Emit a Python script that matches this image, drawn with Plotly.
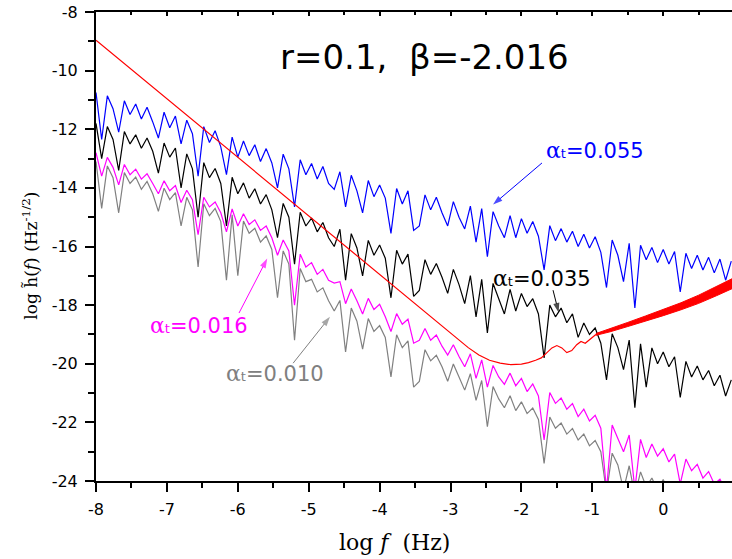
import plotly.graph_objects as go

# ---------------- data ----------------
x_grid = [-8.00, -7.92, -7.84, -7.76, -7.68, -7.60, -7.52, -7.44, -7.36, -7.28,
          -7.20, -7.12, -7.04, -6.96, -6.88, -6.80, -6.72, -6.64, -6.56, -6.48,
          -6.40, -6.32, -6.24, -6.16, -6.08, -6.00, -5.92, -5.84, -5.76, -5.68,
          -5.60, -5.52, -5.44, -5.36, -5.28, -5.20, -5.12, -5.04, -4.96, -4.88,
          -4.80, -4.72, -4.64, -4.56, -4.48, -4.40, -4.32, -4.24, -4.16, -4.08,
          -4.00, -3.92, -3.84, -3.76, -3.68, -3.60, -3.52, -3.44, -3.36, -3.28,
          -3.20, -3.12, -3.04, -2.96, -2.88, -2.80, -2.72, -2.64, -2.56, -2.48,
          -2.40, -2.32, -2.24, -2.16, -2.08, -2.00, -1.92, -1.84, -1.76, -1.68,
          -1.60, -1.52, -1.44, -1.36, -1.28, -1.20, -1.12, -1.04, -0.96, -0.88,
          -0.80, -0.72, -0.64, -0.56, -0.48, -0.40, -0.32, -0.24, -0.16, -0.08,
          0.00, 0.08, 0.16, 0.24, 0.32, 0.40, 0.48, 0.56, 0.64, 0.72,
          0.80, 0.88, 0.96]

blue_y = [-10.75, -12.35, -10.86, -11.30, -12.10, -11.03, -11.50, -11.14, -11.65, -11.25,
          -11.75, -12.30, -11.42, -11.95, -11.55, -12.50, -11.69, -12.15, -13.60, -11.91,
          -12.45, -12.05, -12.60, -13.55, -12.27, -12.95, -12.40, -12.90, -12.53, -13.10,
          -12.66, -13.15, -14.00, -12.85, -13.35, -14.65, -13.04, -13.55, -13.17, -13.70,
          -13.27, -13.85, -14.05, -13.45, -14.65, -13.57, -14.10, -14.85, -13.75, -14.30,
          -13.90, -14.35, -15.55, -14.02, -14.55, -14.10, -15.45, -15.30, -14.24, -14.75,
          -14.32, -14.85, -15.30, -14.47, -15.00, -15.40, -14.62, -15.85, -14.71, -16.35,
          -14.81, -15.30, -15.70, -14.95, -15.70, -15.05, -15.55, -15.15, -15.65, -16.80,
          -15.29, -15.80, -15.39, -15.85, -15.48, -16.00, -15.58, -16.05, -15.67, -16.20,
          -17.40, -15.78, -16.30, -17.20, -15.89, -18.10, -15.96, -16.45, -16.03, -16.55,
          -16.10, -16.60, -16.17, -17.55, -16.23, -16.75, -16.30, -16.80, -16.37, -16.90,
          -16.43, -17.15, -16.50]

black_y = [-11.80, -13.00, -11.91, -12.35, -13.40, -12.08, -12.50, -12.19, -12.65, -12.30,
           -12.75, -13.50, -12.47, -12.95, -12.64, -14.00, -12.84, -13.35, -15.00, -13.14,
           -13.65, -13.34, -13.85, -15.30, -13.64, -14.20, -13.83, -14.35, -14.03, -14.55,
           -14.23, -14.75, -15.70, -14.53, -15.00, -16.60, -14.83, -15.30, -15.03, -15.50,
           -15.18, -15.70, -16.00, -15.41, -17.15, -15.56, -16.05, -17.00, -15.79, -16.30,
           -15.95, -16.40, -17.75, -16.13, -16.60, -16.26, -17.70, -17.50, -16.45, -16.95,
           -16.58, -17.05, -17.60, -16.78, -17.30, -17.95, -16.99, -18.40, -17.12, -18.95,
           -17.26, -17.75, -18.30, -17.46, -18.20, -17.60, -18.05, -17.78, -18.30, -19.80,
           -18.00, -18.40, -18.10, -18.60, -18.30, -19.10, -18.61, -19.00, -18.78, -19.30,
           -20.55, -18.98, -19.45, -20.20, -19.19, -21.50, -19.32, -20.80, -19.46, -20.00,
           -19.60, -20.10, -19.76, -21.15, -19.92, -20.45, -20.08, -20.55, -20.23, -20.75,
           -20.39, -21.10, -20.55]

magenta_y = [-12.80, -13.60, -12.96, -13.30, -13.90, -13.20, -13.55, -13.36, -13.70, -13.52,
             -13.85, -14.20, -13.76, -14.10, -13.92, -14.50, -14.08, -14.40, -15.60, -14.32,
             -14.65, -14.48, -14.85, -15.50, -14.72, -15.30, -14.88, -15.25, -15.09, -15.45,
             -15.30, -15.70, -16.30, -15.78, -16.15, -18.00, -16.26, -16.70, -16.55, -16.95,
             -16.78, -17.15, -17.25, -17.20, -17.95, -17.45, -17.85, -18.30, -17.77, -18.15,
             -17.97, -18.40, -18.90, -18.29, -18.65, -18.48, -19.30, -19.20, -18.80, -19.20,
             -19.02, -19.40, -19.70, -19.35, -19.75, -20.10, -19.66, -20.50, -19.87, -20.80,
             -20.06, -20.45, -20.70, -20.32, -20.75, -20.50, -20.95, -20.69, -21.10, -22.60,
             -20.98, -21.35, -21.17, -21.55, -21.36, -21.80, -21.55, -21.95, -21.76, -22.20,
             -24.30, -22.09, -22.55, -23.00, -22.43, -24.30, -22.58, -23.20, -22.74, -23.15,
             -22.90, -23.35, -23.08, -24.10, -23.25, -23.65, -23.43, -23.90, -23.68, -24.10,
             -23.94, -24.30, -24.20]

gray_y = [-13.10, -14.70, -13.25, -13.65, -14.85, -13.48, -13.85, -13.63, -14.05, -13.78,
          -14.20, -14.80, -14.01, -14.40, -14.16, -15.30, -14.32, -14.75, -16.70, -14.54,
          -14.95, -14.70, -15.15, -17.15, -14.92, -17.00, -15.13, -15.55, -15.38, -15.85,
          -15.64, -16.10, -17.75, -16.15, -16.60, -19.20, -16.75, -17.20, -17.12, -17.55,
          -17.41, -17.85, -18.20, -17.84, -19.60, -18.10, -18.55, -19.50, -18.46, -18.90,
          -18.70, -19.10, -20.45, -19.01, -19.45, -19.22, -20.80, -20.60, -19.52, -19.90,
          -19.71, -20.10, -20.60, -20.01, -20.45, -20.90, -20.34, -21.25, -20.57, -22.15,
          -20.78, -21.20, -21.50, -21.09, -21.60, -21.30, -21.70, -21.51, -21.90, -23.40,
          -21.82, -22.20, -22.02, -22.40, -22.21, -22.60, -22.40, -22.80, -22.62, -23.00,
          -24.40, -23.05, -23.45, -24.30, -23.48, -24.50, -23.69, -24.20, -23.90, -24.30,
          -23.95, -24.40, -24.30, -24.80, -24.50, -24.70, -24.60, -24.90, -24.80, -25.00,
          -24.95, -25.20, -25.10]

red_x = [-8.00, -3.10, -2.90, -2.75, -2.60, -2.45, -2.30, -2.15, -2.00, -1.90,
         -1.80, -1.72, -1.64, -1.57, -1.50, -1.43, -1.36, -1.29, -1.22, -1.16,
         -1.10, -1.05, -1.00, -0.95]
red_y = [-8.96, -18.76, -19.15, -19.45, -19.70, -19.88, -19.98, -20.03, -20.01, -19.96,
         -19.88, -19.80, -19.62, -19.46, -19.38, -19.46, -19.62, -19.55, -19.35, -19.24,
         -19.30, -19.20, -19.08, -19.00]

band_x = [-0.95, -0.75, -0.50, -0.25, 0.00, 0.25, 0.50, 0.75, 0.97]
band_hi = [-18.97, -18.81, -18.59, -18.37, -18.15, -17.92, -17.66, -17.37, -17.10]
band_lo = [-19.03, -18.91, -18.73, -18.55, -18.36, -18.16, -17.94, -17.68, -17.44]

x_ticks = [-8, -7, -6, -5, -4, -3, -2, -1, 0]
x_ticktext = ["-8", "-7", "-6", "-5", "-4", "-3", "-2", "-1", "0"]
x_minor = [-7.5, -6.5, -5.5, -4.5, -3.5, -2.5, -1.5, -0.5, 0.5]
y_ticks = [-24, -22, -20, -18, -16, -14, -12, -10, -8]
y_ticktext = ["-24", "-22", "-20", "-18", "-16", "-14", "-12", "-10", "-8"]
y_minor = [-23, -21, -19, -17, -15, -13, -11, -9]

labels = ["0.055", "0.035", "0.016", "0.010"]
label_colors = ["#0000ff", "#000000", "#ff00ff", "#808080"]
label_x = [-0.96, -1.71, -6.55, -5.48]
label_y = [-12.71, -17.08, -18.68, -20.32]
arrow_tail_x = [-1.71, -1.554, -5.983, -5.22]
arrow_tail_y = [-13.15, -17.49, -18.27, -19.98]
arrow_tip_x = [-2.40, -1.475, -5.585, -4.70]
arrow_tip_y = [-14.57, -18.25, -16.41, -18.40]

# ---------------- figure ----------------
fig = go.Figure()
lw = 1.2
fig.add_trace(go.Scatter(x=x_grid, y=gray_y, mode="lines", line=dict(color="#808080", width=lw)))
fig.add_trace(go.Scatter(x=x_grid, y=magenta_y, mode="lines", line=dict(color="#ff00ff", width=lw)))
fig.add_trace(go.Scatter(x=x_grid, y=black_y, mode="lines", line=dict(color="#000000", width=lw)))
fig.add_trace(go.Scatter(x=x_grid, y=blue_y, mode="lines", line=dict(color="#0000ff", width=lw)))
fig.add_trace(go.Scatter(x=red_x, y=red_y, mode="lines", line=dict(color="#ff0000", width=lw)))
fig.add_trace(go.Scatter(x=band_x, y=band_lo, mode="lines", line=dict(color="#ff0000", width=1)))
fig.add_trace(go.Scatter(x=band_x, y=band_hi, mode="lines", line=dict(color="#ff0000", width=1),
                         fill="tonexty", fillcolor="#ff0000"))
# label arrows: a line with an arrow-head marker oriented along the line
for i in range(len(labels)):
    fig.add_trace(go.Scatter(x=[arrow_tail_x[i], arrow_tip_x[i]], y=[arrow_tail_y[i], arrow_tip_y[i]],
                             mode="lines+markers", line=dict(color=label_colors[i], width=1),
                             marker=dict(symbol="arrow", size=[0, 10], angleref="previous",
                                         color=label_colors[i], line=dict(width=0)),
                             hoverinfo="skip"))
# dummy trace to activate the top axis
fig.add_trace(go.Scatter(x=[-8], y=[-30], xaxis="x2", mode="markers",
                         marker=dict(opacity=0), hoverinfo="skip"))

tickfont = dict(family="DejaVu Sans", size=16, color="black")
fig.update_layout(
    width=732, height=559,
    margin=dict(l=96, r=0, t=12, b=78, autoexpand=False),
    paper_bgcolor="white", plot_bgcolor="white",
    showlegend=False,
    xaxis=dict(range=[-8, 0.97], tickmode="array", tickvals=x_ticks, ticktext=x_ticktext,
               ticks="outside", ticklen=9, tickwidth=2, tickcolor="black",
               showline=True, linewidth=2, linecolor="black", automargin=False,
               showgrid=False, zeroline=False, tickfont=tickfont, ticklabelstandoff=4,
               minor=dict(tickmode="array", tickvals=x_minor, ticks="outside",
                          ticklen=5, tickwidth=2, tickcolor="black", showgrid=False)),
    xaxis2=dict(range=[-8, 0.97], overlaying="x", side="top", anchor="y",
                tickmode="array", tickvals=x_ticks, ticks="inside", ticklen=4,
                tickwidth=1.5, tickcolor="black", showticklabels=False, automargin=False,
                showline=True, linewidth=2, linecolor="black",
                showgrid=False, zeroline=False,
                minor=dict(tickmode="array", tickvals=x_minor, ticks="inside",
                           ticklen=3, tickwidth=1.5, tickcolor="black", showgrid=False)),
    yaxis=dict(range=[-24, -8], tickmode="array", tickvals=y_ticks, ticktext=y_ticktext,
               ticks="outside", ticklen=9, tickwidth=2, tickcolor="black",
               showline=True, linewidth=2, linecolor="black", automargin=False,
               showgrid=False, zeroline=False, tickfont=tickfont, ticklabelstandoff=4,
               ticklabeloverflow="allow",
               minor=dict(tickmode="array", tickvals=y_minor, ticks="outside",
                          ticklen=6, tickwidth=2, tickcolor="black", showgrid=False)),
)

annotations = []
# title
annotations.append(dict(text="r=0.1,\u00a0 \u03b2=-2.016", x=0.516, y=0.904, xref="paper", yref="paper",
                        showarrow=False, xanchor="center", yanchor="middle",
                        font=dict(family="DejaVu Sans", size=34, color="black")))
# axis titles
annotations.append(dict(text="log <i>f</i>\u00a0 (Hz)", x=0.470, y=-0.132, xref="paper", yref="paper",
                        showarrow=False, xanchor="center", yanchor="middle",
                        font=dict(family="DejaVu Serif", size=22, color="black")))
annotations.append(dict(text="log h\u0303(<i>f</i>) (Hz<sup>-1/2</sup>)", x=-0.104, y=0.48,
                        xref="paper", yref="paper", textangle=-90,
                        showarrow=False, xanchor="center", yanchor="middle",
                        font=dict(family="DejaVu Serif", size=17, color="black")))
# series labels
for i in range(len(labels)):
    txt = ("<span style=\"font-family:DejaVu Serif;font-size:22px\">\u03b1</span>"
           "<span style=\"font-family:DejaVu Sans;font-size:13px\">t</span>=" + labels[i])
    annotations.append(dict(text=txt, x=label_x[i], y=label_y[i], xref="x", yref="y",
                            showarrow=False, xanchor="center", yanchor="middle",
                            font=dict(family="DejaVu Sans", size=21, color=label_colors[i])))
fig.update_layout(annotations=annotations)

# remove the browser's default 8px page margin so the figure sits at the page origin
fig.write_html("out.html", config={"displayModeBar": False},
               post_script="document.body.style.margin='0px';")
